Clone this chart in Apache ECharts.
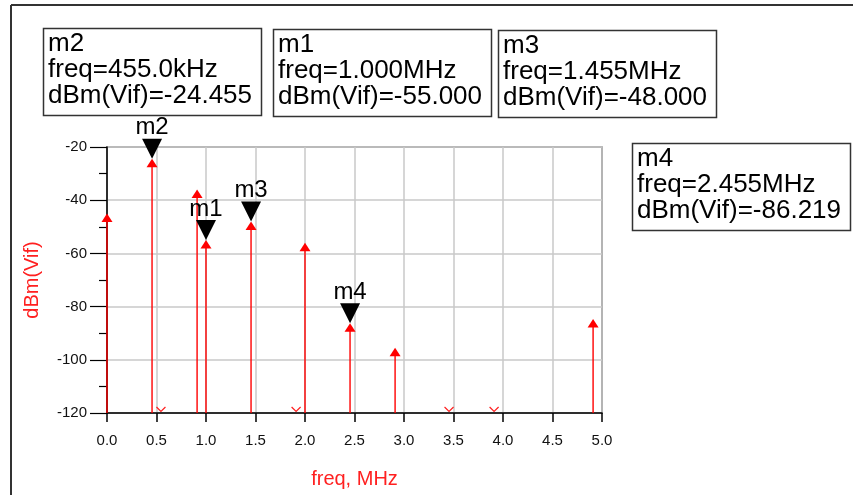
<!DOCTYPE html>
<html>
<head>
<meta charset="utf-8">
<script src="https://cdn.jsdelivr.net/npm/echarts@6/dist/echarts.min.js"></script>
<style>
html,body{margin:0;padding:0;background:#fff;}
#c{width:853px;height:495px;}
</style>
</head>
<body>
<div id="c"></div>
<script>
// ---- data ----
const freqs = [0, 0.455, 0.91, 1.0, 1.455, 2.0, 2.455, 2.91, 4.91];          // MHz
const levels = [-45, -24.455, -36, -55, -48, -56, -86.219, -95.5, -84.7];    // dBm(Vif)
const lowFreqs = [0.545, 1.91, 3.455, 3.91];                                 // components below the -120 floor
const lowLevels = [-140, -140, -140, -140];
const markerNames = ['m1', 'm2', 'm3', 'm4'];
const markerFreqs = [1.0, 0.455, 1.455, 2.455];
const markerLevels = [-55.000, -24.455, -48.000, -86.219];
const xTicks = [0, 0.5, 1, 1.5, 2, 2.5, 3, 3.5, 4, 4.5, 5];
const yTicks = [-120, -100, -80, -60, -40, -20];

// ---- layout (positions of the marker readout boxes) ----
const boxLayout = { m2: [43, 28], m1: [273, 29], m3: [498, 30], m4: [632, 143] };
const BOX_W = 218, BOX_H = 87;
const FONT = '"Liberation Sans", Arial, sans-serif';

function fmtFreq(f) {
  return f < 1 ? (f * 1000).toFixed(1) + 'kHz' : f.toFixed(3) + 'MHz';
}

const graphics = [
  { type: 'line', shape: { x1: 11, y1: 5, x2: 853, y2: 5 }, style: { stroke: '#333', lineWidth: 2 } },
  { type: 'line', shape: { x1: 11, y1: 5, x2: 11, y2: 495 }, style: { stroke: '#333', lineWidth: 2 } }
];
markerNames.forEach((n, i) => {
  const p = boxLayout[n];
  graphics.push({
    type: 'rect', shape: { x: p[0] + 0.5, y: p[1] + 0.5, width: BOX_W, height: BOX_H },
    style: { fill: '#fff', stroke: '#333', lineWidth: 1.5 }, z: 10
  });
  graphics.push({
    type: 'text', x: p[0] + 5, y: p[1] + 3, z: 11,
    style: {
      text: n + '\nfreq=' + fmtFreq(markerFreqs[i]) + '\ndBm(Vif)=' + markerLevels[i].toFixed(3),
      fontSize: 26, lineHeight: 26, fontFamily: FONT, fill: '#000',
      align: 'left', verticalAlign: 'top'
    }
  });
});

const chart = echarts.init(document.getElementById('c'), null, { renderer: 'canvas' });
chart.setOption({
  animation: false,
  backgroundColor: '#fff',
  grid: { left: 107, right: 251, top: 147, bottom: 82, show: true, borderColor: '#222', borderWidth: 1.2, backgroundColor: 'transparent' },
  xAxis: {
    type: 'value', min: xTicks[0], max: xTicks[xTicks.length - 1], interval: 0.5,
    name: 'freq, MHz', nameLocation: 'middle', nameGap: 56,
    nameTextStyle: { color: '#ff2020', fontSize: 20, fontFamily: FONT },
    axisLine: { show: true, lineStyle: { color: '#000', width: 1.5 } },
    axisTick: { show: true, length: 9, lineStyle: { color: '#000', width: 1.5 } },
    axisLabel: { color: '#111', fontSize: 15, fontFamily: FONT, margin: 20, formatter: v => v.toFixed(1) },
    splitLine: { show: true, lineStyle: { color: '#c8c8c8', width: 1.5 } }
  },
  yAxis: {
    type: 'value', min: yTicks[0], max: yTicks[yTicks.length - 1], interval: 20,
    name: 'dBm(Vif)', nameLocation: 'middle', nameGap: 65, nameRotate: 90,
    nameTextStyle: { color: '#ff2020', fontSize: 20, fontFamily: FONT },
    axisLine: { show: true, lineStyle: { color: '#000', width: 1.5 } },
    axisTick: { show: true, length: 17, lineStyle: { color: '#000', width: 1.2 } },
    minorTick: { show: true, splitNumber: 2, length: 8, lineStyle: { color: '#000', width: 1.2 } },
    axisLabel: { color: '#111', fontSize: 15, fontFamily: FONT, margin: 20 },
    splitLine: { show: true, lineStyle: { color: '#c8c8c8', width: 1.5 } }
  },
  graphic: graphics,
  series: [
    {
      type: 'custom', name: 'spectrum', z: 3,
      data: freqs.map((f, i) => [f, levels[i]]),
      encode: { x: 0, y: 1 },
      renderItem: function (params, api) {
        const top = api.coord([api.value(0), api.value(1)]);
        const base = api.coord([api.value(0), yTicks[0]]);
        return {
          type: 'group', children: [
            { type: 'line', shape: { x1: top[0], y1: top[1] + 7, x2: base[0], y2: base[1] }, style: { stroke: '#ff0000', lineWidth: 1.4 } },
            { type: 'polygon', shape: { points: [[top[0], top[1]], [top[0] - 5.5, top[1] + 8.5], [top[0] + 5.5, top[1] + 8.5]] }, style: { fill: '#ff0000' } }
          ]
        };
      }
    },
    {
      type: 'custom', name: 'below floor', z: 3,
      data: lowFreqs.map((f, i) => [f, lowLevels[i]]),
      encode: { x: 0, y: 1 },
      renderItem: function (params, api) {
        const base = api.coord([api.value(0), yTicks[0]]);
        return {
          type: 'polyline',
          shape: { points: [[base[0] - 4.5, base[1] - 6], [base[0], base[1] - 1.5], [base[0] + 4.5, base[1] - 6]] },
          style: { stroke: '#ff2020', lineWidth: 1.2, fill: null }
        };
      }
    },
    {
      type: 'custom', name: 'markers', z: 5,
      data: markerFreqs.map((f, i) => [f, markerLevels[i]]),
      encode: { x: 0, y: 1 },
      renderItem: function (params, api) {
        const p = api.coord([api.value(0), api.value(1)]);
        return {
          type: 'group', children: [
            { type: 'polygon', shape: { points: [[p[0] - 10, p[1] - 20], [p[0] + 10, p[1] - 20], [p[0], p[1]]] }, style: { fill: '#000' } },
            { type: 'text', x: p[0], y: p[1] - 19, style: { text: markerNames[params.dataIndex], fontSize: 24, fontFamily: FONT, fill: '#000', align: 'center', verticalAlign: 'bottom' } }
          ]
        };
      }
    }
  ]
});
</script>
</body>
</html>
